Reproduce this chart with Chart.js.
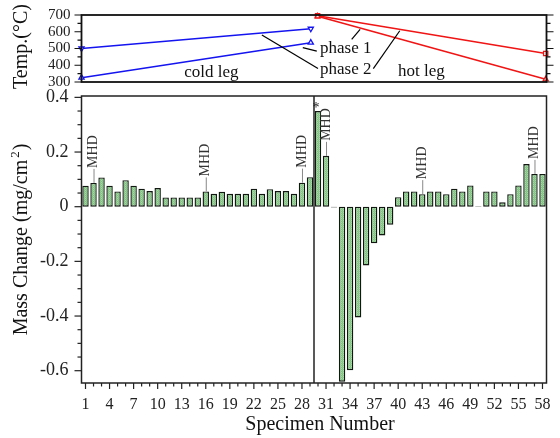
<!DOCTYPE html>
<html>
<head>
<meta charset="utf-8">
<script src="https://cdn.jsdelivr.net/npm/chart.js@4"></script>
<style>
  body { margin: 0; background: #fff; }
  #wrap { position: relative; width: 560px; height: 438px; }
  #wrap canvas { position: absolute; left: 0; }
</style>
</head>
<body>
<div id="wrap">
  <canvas id="tempChart" width="560" height="90" style="top:0"></canvas>
  <canvas id="massChart" width="560" height="350" style="top:88px"></canvas>
</div>
<script>
// top panel: loop temperatures
const coldLegX = [0.5, 29.1];
const hotLegX = [29.95, 58.4];
const coldPhase1 = [326, 535];
const coldPhase2 = [500, 618];
const hotPhase1 = [692, 316];
const hotPhase2 = [696, 470];
const tempTicks = [300, 400, 500, 600, 700];

// bottom panel: mass change per specimen
const specimens = Array.from({ length: 58 }, (_, i) => String(i + 1));
const massChange = [
  0.077, 0.087, 0.107, 0.077, 0.056, 0.097, 0.077, 0.066, 0.057, 0.068,
  0.034, 0.034, 0.034, 0.034, 0.034, 0.056, 0.047, 0.055, 0.047, 0.047,
  0.047, 0.066, 0.047, 0.064, 0.057, 0.057, 0.047, 0.088, 0.108, 0.350,
  0.186, -0.003, -0.640, -0.598, -0.405, -0.215, -0.134, -0.105, -0.066, 0.035,
  0.056, 0.056, 0.046, 0.056, 0.056, 0.046, 0.066, 0.056, 0.078, 0.002,
  0.056, 0.056, 0.016, 0.046, 0.078, 0.156, 0.120, 0.120
];
const massTicks = [-0.6, -0.4, -0.2, 0, 0.2, 0.4];
const mhdSpecimens = [2, 16, 28, 31, 43, 57];
const starSpecimen = 30;

const serif = "'Liberation Serif', 'Times New Roman', serif";

function pts(xs, ys) {
  return xs.map((x, i) => ({ x: x, y: ys[i] }));
}

function minorSteps(lo, hi, step) {
  const out = [];
  for (let v = lo; v <= hi + step / 2; v += step) out.push(Math.round(v * 1000) / 1000);
  return out;
}

function isMajor(v, list) {
  return list.some(t => Math.abs(t - v) < 1e-6);
}

// keep the plot areas where the layout padding puts them
function noOverflow(s) {
  s.paddingTop = 0; s.paddingBottom = 0;
  s.paddingLeft = 0; s.paddingRight = 0;
}

function barPattern() {
  const c = document.createElement("canvas");
  c.width = 2; c.height = 2;
  const g = c.getContext("2d");
  g.fillStyle = "#80c280"; g.fillRect(0, 0, 2, 2);
  g.fillStyle = "#a8d8a8"; g.fillRect(1, 0, 1, 1);
  g.fillStyle = "#93cc93"; g.fillRect(0, 1, 1, 1);
  return g.createPattern(c, "repeat");
}

// ---------- top chart ----------
const tempMinor = minorSteps(300, 700, 50);

const tempDecor = {
  id: "tempDecor",
  afterDraw(chart) {
    const ctx = chart.ctx, a = chart.chartArea;
    const xs = chart.scales.x, ys = chart.scales.y;
    ctx.save();
    ctx.strokeStyle = "#111";
    ctx.lineWidth = 1.8;
    ctx.strokeRect(a.left, a.top, a.right - a.left, a.bottom - a.top);
    ctx.lineWidth = 1.2;
    tempMinor.forEach(v => {
      const y = ys.getPixelForValue(v);
      const len = isMajor(v, tempTicks) ? 7 : 4;
      ctx.beginPath();
      ctx.moveTo(a.left - len, y); ctx.lineTo(a.left, y);
      ctx.moveTo(a.right, y); ctx.lineTo(a.right + len, y);
      ctx.stroke();
    });

    // leader lines for the phase labels
    const leaders = [
      [28.1, 505, 29.85, 484],
      [23.0, 580, 30.0, 380],
      [34.2, 554, 35.25, 614],
      [36.9, 380, 40.2, 606]
    ];
    ctx.strokeStyle = "#000";
    ctx.lineWidth = 1.2;
    leaders.forEach(l => {
      ctx.beginPath();
      ctx.moveTo(xs.getPixelForValue(l[0]), ys.getPixelForValue(l[1]));
      ctx.lineTo(xs.getPixelForValue(l[2]), ys.getPixelForValue(l[3]));
      ctx.stroke();
    });

    const notes = [
      { text: "phase 1", x: 30.25, y: 502, align: "left" },
      { text: "phase 2", x: 30.25, y: 376, align: "left" },
      { text: "cold leg", x: 16.7, y: 358, align: "center" },
      { text: "hot leg", x: 42.9, y: 364, align: "center" }
    ];
    ctx.fillStyle = "#111";
    ctx.font = "17px " + serif;
    ctx.textBaseline = "middle";
    notes.forEach(n => {
      ctx.textAlign = n.align;
      ctx.fillText(n.text, xs.getPixelForValue(n.x), ys.getPixelForValue(n.y));
    });

    // axis title
    ctx.save();
    ctx.translate(22, (a.top + a.bottom) / 2 - 2);
    ctx.rotate(-Math.PI / 2);
    ctx.textAlign = "center";
    ctx.font = "20px " + serif;
    ctx.fillText("Temp.(°C)", 0, 0);
    ctx.restore();
    ctx.restore();
  }
};

const lineStyle = (color, style, rot) => ({
  borderColor: color,
  backgroundColor: "#fff",
  borderWidth: 1.5,
  pointStyle: style,
  pointRotation: rot,
  pointRadius: 3,
  pointBorderWidth: 1.3,
  pointBackgroundColor: "#fff",
  pointBorderColor: color,
  clip: false
});

new Chart(document.getElementById("tempChart"), {
  type: "line",
  data: {
    datasets: [
      Object.assign({ label: "cold phase 1", data: pts(coldLegX, coldPhase1) }, lineStyle("#1414f0", "triangle", 0)),
      Object.assign({ label: "cold phase 2", data: pts(coldLegX, coldPhase2) }, lineStyle("#1414f0", "triangle", 180)),
      Object.assign({ label: "hot phase 1", data: pts(hotLegX, hotPhase1) }, lineStyle("#f01414", "triangle", 0)),
      Object.assign({ label: "hot phase 2", data: pts(hotLegX, hotPhase2) }, lineStyle("#f01414", "rect", 0))
    ]
  },
  options: {
    responsive: false,
    animation: false,
    layout: { padding: { top: 15, right: 13.5, bottom: 8, left: 0 } },
    plugins: { legend: { display: false }, tooltip: { enabled: false } },
    scales: {
      x: { type: "linear", min: 0.5, max: 58.5, display: false },
      y: {
        min: 300, max: 700,
        afterFit: s => { s.width = 81.5; noOverflow(s); },
        afterBuildTicks: s => { s.ticks = tempMinor.map(v => ({ value: v })); },
        grid: { display: false, drawTicks: false },
        border: { display: false },
        ticks: {
          autoSkip: false,
          padding: 11,
          color: "#222",
          font: { family: serif, size: 15 },
          callback: v => isMajor(v, tempTicks) ? String(v) : ""
        }
      }
    }
  },
  plugins: [tempDecor]
});

// ---------- bottom chart ----------
const massMinor = minorSteps(-0.6, 0.4, 0.05);

const massDecor = {
  id: "massDecor",
  afterDatasetsDraw(chart) {
    const ctx = chart.ctx, a = chart.chartArea;
    const xs = chart.scales.x, ys = chart.scales.y;
    const meta = chart.getDatasetMeta(0);
    ctx.save();

    // frame
    ctx.strokeStyle = "#222";
    ctx.lineWidth = 1.5;
    ctx.strokeRect(a.left, a.top, a.right - a.left, a.bottom - a.top);

    // divider between specimen 29 and 30
    const xd = (meta.data[28].x + meta.data[29].x) / 2;
    ctx.beginPath();
    ctx.moveTo(xd, a.top); ctx.lineTo(xd, a.bottom);
    ctx.stroke();

    // y ticks
    ctx.lineWidth = 1.2;
    massMinor.forEach(v => {
      const y = ys.getPixelForValue(v);
      const len = isMajor(v, massTicks) ? 7 : 4;
      ctx.beginPath();
      ctx.moveTo(a.left - len, y); ctx.lineTo(a.left, y);
      ctx.stroke();
    });
    // x ticks
    specimens.forEach((s, i) => {
      const x = xs.getPixelForValue(i);
      const len = i % 3 === 0 ? 6 : 3.5;
      ctx.beginPath();
      ctx.moveTo(x, a.bottom); ctx.lineTo(x, a.bottom + len);
      ctx.stroke();
    });

    // MHD notes
    ctx.font = "14px " + serif;
    mhdSpecimens.forEach(n => {
      const bar = meta.data[n - 1];
      const top = Math.min(bar.y, bar.base);
      ctx.strokeStyle = "#888";
      ctx.lineWidth = 1;
      ctx.beginPath();
      ctx.moveTo(bar.x + 0.5, top); ctx.lineTo(bar.x + 0.5, top - 14);
      ctx.stroke();
      ctx.save();
      ctx.translate(bar.x, top - 15);
      ctx.rotate(-Math.PI / 2);
      ctx.fillStyle = "#333";
      ctx.textAlign = "left";
      ctx.textBaseline = "middle";
      ctx.fillText("MHD", 0, 0);
      ctx.restore();
    });

    // asterisk
    const sb = meta.data[starSpecimen - 1];
    ctx.fillStyle = "#222";
    ctx.textAlign = "center";
    ctx.textBaseline = "alphabetic";
    ctx.font = "14px " + serif;
    ctx.fillText("*", sb.x - 2, sb.y + 1);

    // axis titles
    ctx.fillStyle = "#111";
    ctx.font = "20px " + serif;
    ctx.textAlign = "center";
    ctx.textBaseline = "middle";
    ctx.fillText("Specimen Number", 320, 337);

    ctx.save();
    ctx.translate(22, (a.top + a.bottom) / 2);
    ctx.rotate(-Math.PI / 2);
    const main = "Mass Change (mg/cm", sup = "2", tail = ")";
    ctx.font = "20px " + serif;
    const w1 = ctx.measureText(main).width, w3 = ctx.measureText(tail).width;
    ctx.font = "13px " + serif;
    const w2 = ctx.measureText(sup).width + 3;
    let x0 = -(w1 + w2 + w3) / 2;
    ctx.textAlign = "left";
    ctx.font = "20px " + serif;
    ctx.fillText(main, x0, 0);
    ctx.font = "13px " + serif;
    ctx.fillText(sup, x0 + w1 + 2, -6);
    ctx.font = "20px " + serif;
    ctx.fillText(tail, x0 + w1 + w2, 0);
    ctx.restore();

    ctx.restore();
  }
};

const massCtx = document.getElementById("massChart").getContext("2d");

new Chart(massCtx, {
  type: "bar",
  data: {
    labels: specimens,
    datasets: [{
      label: "Mass change",
      data: massChange,
      backgroundColor: barPattern(),
      borderColor: "#111811",
      borderWidth: 1.4,
      borderSkipped: false,
      categoryPercentage: 1,
      barPercentage: 0.8
    }]
  },
  options: {
    responsive: false,
    animation: false,
    layout: { padding: { top: 8, right: 13.5, bottom: 0, left: 0 } },
    plugins: { legend: { display: false }, tooltip: { enabled: false } },
    scales: {
      x: {
        afterFit: s => { s.height = 55; noOverflow(s); },
        grid: { display: false, drawTicks: false },
        border: { display: false },
        ticks: {
          autoSkip: false,
          maxRotation: 0,
          padding: 12,
          color: "#222",
          font: { family: serif, size: 16 },
          callback: (v, i) => i % 3 === 0 ? specimens[i] : ""
        }
      },
      y: {
        min: -0.645, max: 0.405,
        afterFit: s => { s.width = 81.5; noOverflow(s); },
        afterBuildTicks: s => { s.ticks = massMinor.map(v => ({ value: v })); },
        grid: { display: false, drawTicks: false },
        border: { display: false },
        ticks: {
          autoSkip: false,
          padding: 13,
          color: "#222",
          font: { family: serif, size: 18 },
          callback: v => isMajor(v, massTicks) ? String(v) : ""
        }
      }
    }
  },
  plugins: [massDecor]
});
</script>
</body>
</html>
